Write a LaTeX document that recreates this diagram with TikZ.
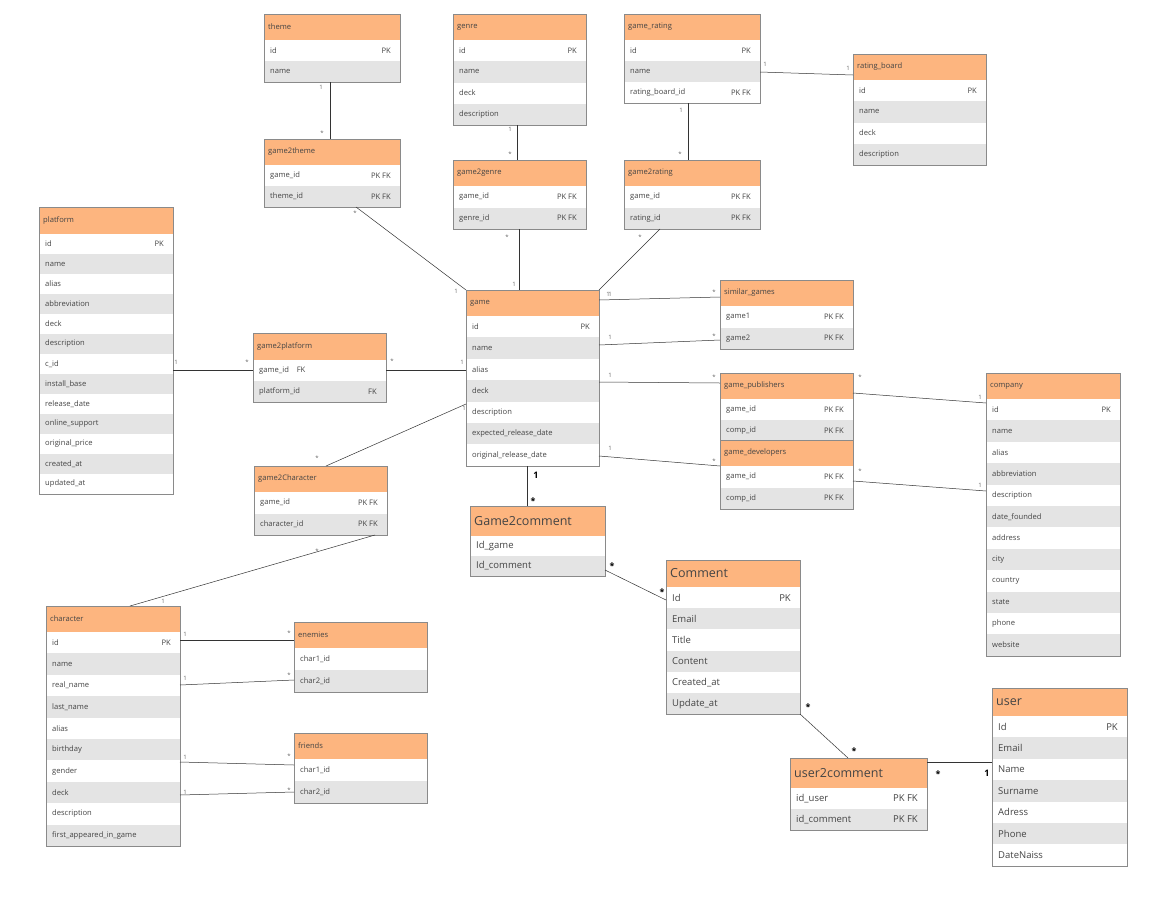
\documentclass[tikz,border=0pt]{standalone}
\usepackage{fontspec}
\setmainfont{Open Sans}
\definecolor{hdr}{HTML}{FDB57F}
\definecolor{rowg}{HTML}{E4E4E4}
\definecolor{bord}{HTML}{8A8A8A}
\definecolor{txt}{HTML}{444444}
\newcommand\ertab[9]{%
 \fill[hdr] (#3,#5) rectangle (#4,#6);
 \node[anchor=west,font=#2,text=txt,inner sep=1pt] at (#3+3,{(#5+#6)/2}) {#8};
 \foreach \nm/\ky [count=\i] in {#9}{
   \pgfmathsetmacro\ya{#6+(\i-1)*#7}
   \pgfmathsetmacro\yb{#6+\i*#7}
   \ifodd\i\else \fill[rowg] (#3,\ya) rectangle (#4,\yb);\fi
   \node[anchor=west,font=#1,text=txt,inner sep=1pt] at (#3+5,{(\ya+\yb)/2}) {\nm};
   \node[anchor=east,font=#1,text=txt,inner sep=1pt] at (#4-8,{(\ya+\yb)/2}) {\ky};
   \xdef\lasty{\yb}
 }
 \draw[bord] (#3,#5) rectangle (#4,\lasty);
}
\newcommand\sm{\fontsize{7.6}{9}\selectfont}
\newcommand\bg{\fontsize{9.5}{11}\selectfont}
\newcommand\bgh{\fontsize{12.5}{14}\selectfont}
\tikzset{conn/.style={draw=black!80,line width=0.5pt},
 lab/.style={font=\fontsize{6}{7}\selectfont,text=black!60,inner sep=0pt},
 blab/.style={font=\fontsize{9}{10}\selectfont\bfseries,inner sep=0pt}}
\begin{document}
\begin{tikzpicture}[x=1pt,y=-1pt]
\useasboundingbox (0,0) rectangle (1172,905);
\ertab{\sm}{\sm}{264}{400}{14}{40}{21}{theme}{id/PK,name/}
\ertab{\sm}{\sm}{453}{586}{14}{40}{21.25}{genre}{id/PK,name/,deck/,description/}
\ertab{\sm}{\sm}{624}{760}{14}{40}{21}{game\_rating}{id/PK,name/,rating\_board\_id/PK FK}
\ertab{\sm}{\sm}{853}{986}{54}{80}{21.25}{rating\_board}{id/PK,name/,deck/,description/}
\ertab{\sm}{\sm}{264}{400}{139}{165}{21}{game2theme}{game\_id/PK FK,theme\_id/PK FK}
\ertab{\sm}{\sm}{453}{586}{160}{186}{21.5}{game2genre}{game\_id/PK FK,genre\_id/PK FK}
\ertab{\sm}{\sm}{624}{760}{160}{186}{21.5}{game2rating}{game\_id/PK FK,rating\_id/PK FK}
\ertab{\sm}{\sm}{39}{173}{207}{234}{20}{platform}{id/PK,name/,alias/,abbreviation/,deck/,description/,c\_id/,install\_base/,release\_date/,online\_support/,original\_price/,created\_at/,updated\_at/}
\ertab{\sm}{\sm}{253}{386}{333}{360}{21}{game2platform}{game\_id\ \ \ \ FK/,platform\_id/FK\hspace{14pt}}
\ertab{\sm}{\sm}{466}{599}{290}{316}{21.4}{game}{id/PK\hspace{14pt},name/,alias/,deck/,description/,expected\_release\_date/,original\_release\_date/}
\ertab{\sm}{\sm}{720}{853}{280}{306}{21.5}{similar\_games}{game1/PK FK,game2/PK FK}
\ertab{\sm}{\sm}{720}{853}{373}{399}{21}{game\_publishers}{game\_id/PK FK,comp\_id/PK FK}
\ertab{\sm}{\sm}{720}{853}{440}{466}{21.5}{game\_developers}{game\_id/PK FK,comp\_id/PK FK}
\ertab{\sm}{\sm}{986}{1120}{373}{399}{21.4}{company}{id/PK,name/,alias/,abbreviation/,description/,date\_founded/,address/,city/,country/,state/,phone/,website/}
\ertab{\sm}{\sm}{254}{387}{466}{492}{21.5}{game2Character}{game\_id/PK FK,character\_id/PK FK}
\ertab{\bg}{\bgh}{470}{605}{506}{536}{20}{Game2comment}{Id\_game/,Id\_comment/}
\ertab{\bg}{\bgh}{666}{800}{560}{587}{21.2}{Comment}{Id/PK,Email/,Title/,Content/,Created\_at/,Update\_at/}
\ertab{\bg}{\bgh}{992}{1127}{688}{716}{21.4}{user}{Id/PK,Email/,Name/,Surname/,Adress/,Phone/,DateNaiss/}
\ertab{\bg}{\bgh}{790}{927}{758}{788}{21}{user2comment}{id\_user/PK FK,id\_comment/PK FK}
\ertab{\sm}{\sm}{46}{180}{606}{632}{21.4}{character}{id/PK,name/,real\_name/,last\_name/,alias/,birthday/,gender/,deck/,description/,first\_appeared\_in\_game/}
\ertab{\sm}{\sm}{294}{427}{622}{648}{22}{enemies}{char1\_id/,char2\_id/}
\ertab{\sm}{\sm}{294}{427}{733}{759}{22}{friends}{char1\_id/,char2\_id/}
% connectors
\coordinate (a1) at (330,82); \coordinate (a2) at (330,139);
\draw[conn] (a1)--(a2); \node[lab] at (321,87){1}; \node[lab] at (322,133){*};
\coordinate (b1) at (517,125); \coordinate (b2) at (517,160);
\draw[conn] (b1)--(b2); \node[lab] at (510,129){1}; \node[lab] at (510,154){*};
\coordinate (c1) at (688,103); \coordinate (c2) at (688,160);
\draw[conn] (c1)--(c2); \node[lab] at (681,110){1}; \node[lab] at (680,154){*};
\coordinate (d1) at (760,72); \coordinate (d2) at (853,75);
\draw[conn] (d1)--(d2); \node[lab] at (765,64){1}; \node[lab] at (848,68){1};
\coordinate (e1) at (356,207); \coordinate (e2) at (466,290);
\draw[conn] (e1)--(e2); \node[lab] at (355,213){*}; \node[lab] at (456,291){1};
\coordinate (f1) at (519,229); \coordinate (f2) at (519,290);
\draw[conn] (f1)--(f2); \node[lab] at (507,237){*}; \node[lab] at (514,284){1};
\coordinate (g1) at (660,229); \coordinate (g2) at (599,290);
\draw[conn] (g1)--(g2); \node[lab] at (640,237){*}; \node[lab] at (608,294){1};
\coordinate (h1) at (599,300); \coordinate (h2) at (720,297);
\draw[conn] (h1)--(h2); \node[lab] at (610,294){1}; \node[lab] at (714,292){*};
\coordinate (i1) at (599,345); \coordinate (i2) at (720,340);
\draw[conn] (i1)--(i2); \node[lab] at (610,337){1}; \node[lab] at (714,336){*};
\coordinate (j1) at (599,382); \coordinate (j2) at (720,383);
\draw[conn] (j1)--(j2); \node[lab] at (610,375){1}; \node[lab] at (714,377){*};
\coordinate (k1) at (599,456); \coordinate (k2) at (720,466);
\draw[conn] (k1)--(k2); \node[lab] at (610,448){1}; \node[lab] at (714,461){*};
\coordinate (l1) at (853,393); \coordinate (l2) at (986,403);
\draw[conn] (l1)--(l2); \node[lab] at (860,377){*}; \node[lab] at (980,397){1};
\coordinate (m1) at (853,481); \coordinate (m2) at (986,491);
\draw[conn] (m1)--(m2); \node[lab] at (860,471){*}; \node[lab] at (980,485){1};
\coordinate (n1) at (173,370); \coordinate (n2) at (253,370);
\draw[conn] (n1)--(n2); \node[lab] at (176,362){1}; \node[lab] at (247,362){*};
\coordinate (o1) at (386,370); \coordinate (o2) at (466,370);
\draw[conn] (o1)--(o2); \node[lab] at (392,361){*}; \node[lab] at (462,362){1};
\coordinate (p1) at (466,404); \coordinate (p2) at (326,466);
\draw[conn] (p1)--(p2); \node[lab] at (317,458){*}; \node[lab] at (464,408){1};
\coordinate (q1) at (375,535); \coordinate (q2) at (130,606);
\draw[conn] (q1)--(q2); \node[lab] at (317,551){*}; \node[lab] at (163,601){1};
\coordinate (r1) at (527,466); \coordinate (r2) at (527,506);
\draw[conn] (r1)--(r2); \node[blab] at (536,475){1}; \node[blab] at (533,501){*};
\coordinate (s1) at (605,570); \coordinate (s2) at (666,600);
\draw[conn] (s1)--(s2); \node[blab] at (612,566){*}; \node[blab] at (662,592){*};
\coordinate (t1) at (800,714); \coordinate (t2) at (848,758);
\draw[conn] (t1)--(t2); \node[blab] at (808,707){*}; \node[blab] at (854,751){*};
\coordinate (u1) at (927,762); \coordinate (u2) at (992,762);
\draw[conn] (u1)--(u2); \node[blab] at (938,774){*}; \node[blab] at (987,773){1};
\coordinate (v1) at (180,640); \coordinate (v2) at (294,640);
\draw[conn] (v1)--(v2); \node[lab] at (185,634){1}; \node[lab] at (289,633){*};
\coordinate (w1) at (180,685); \coordinate (w2) at (294,680);
\draw[conn] (w1)--(w2); \node[lab] at (185,678){1}; \node[lab] at (289,675){*};
\coordinate (y1) at (180,762); \coordinate (y2) at (294,765);
\draw[conn] (y1)--(y2); \node[lab] at (185,757){1}; \node[lab] at (289,756){*};
\coordinate (z1) at (180,795); \coordinate (z2) at (294,792);
\draw[conn] (z1)--(z2); \node[lab] at (185,792){1}; \node[lab] at (289,790){*};
\end{tikzpicture}
\end{document}
